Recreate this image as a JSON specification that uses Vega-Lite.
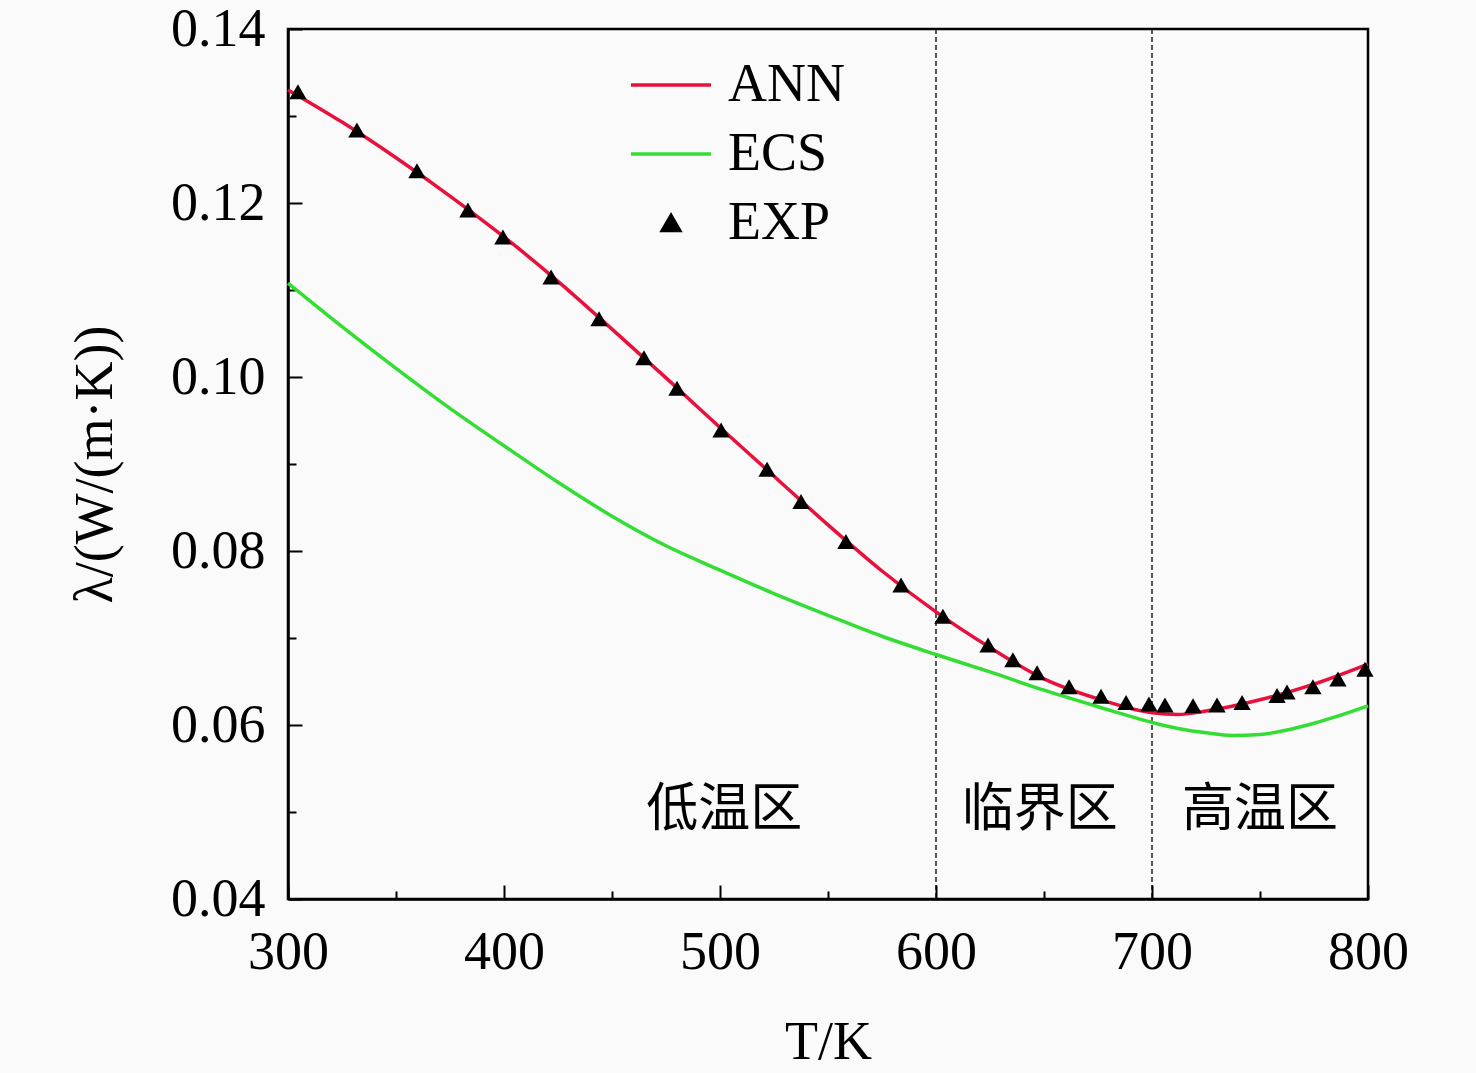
{
  "$schema": "https://vega.github.io/schema/vega-lite/v6.json",
  "width": 1080,
  "height": 870,
  "autosize": {"type": "none"},
  "padding": {"left": 288, "top": 29, "right": 108, "bottom": 174},
  "background": "#FAFAFA",
  "config": {
    "view": {"stroke": "black", "strokeWidth": 2.5},
    "font": "Liberation Serif",
    "axis": {
      "domainColor": "black",
      "domainWidth": 2.5,
      "tickColor": "black",
      "tickWidth": 2,
      "labelColor": "black",
      "labelFont": "Liberation Serif",
      "labelFontSize": 54,
      "labelFlush": false,
      "labelOverlap": false,
      "labelBound": false,
      "titleFont": "Liberation Serif",
      "titleFontSize": 54,
      "titleFontWeight": "normal",
      "titleColor": "black",
      "grid": false
    }
  },
  "data": {
    "values": [
      {"series": "ANN", "T": 300, "lam": 0.1330},
      {"series": "ANN", "T": 325, "lam": 0.1293},
      {"series": "ANN", "T": 350, "lam": 0.1252},
      {"series": "ANN", "T": 375, "lam": 0.1208},
      {"series": "ANN", "T": 400, "lam": 0.1161},
      {"series": "ANN", "T": 425, "lam": 0.1110},
      {"series": "ANN", "T": 450, "lam": 0.1055},
      {"series": "ANN", "T": 475, "lam": 0.0999},
      {"series": "ANN", "T": 500, "lam": 0.0942},
      {"series": "ANN", "T": 525, "lam": 0.0886},
      {"series": "ANN", "T": 550, "lam": 0.0830},
      {"series": "ANN", "T": 575, "lam": 0.0777},
      {"series": "ANN", "T": 600, "lam": 0.0730},
      {"series": "ANN", "T": 625, "lam": 0.0689},
      {"series": "ANN", "T": 650, "lam": 0.0653},
      {"series": "ANN", "T": 675, "lam": 0.0630},
      {"series": "ANN", "T": 700, "lam": 0.0614},
      {"series": "ANN", "T": 712, "lam": 0.0612},
      {"series": "ANN", "T": 725, "lam": 0.0616},
      {"series": "ANN", "T": 750, "lam": 0.0629},
      {"series": "ANN", "T": 775, "lam": 0.0647},
      {"series": "ANN", "T": 800, "lam": 0.0670},
      {"series": "ECS", "T": 300, "lam": 0.1108},
      {"series": "ECS", "T": 325, "lam": 0.1058},
      {"series": "ECS", "T": 350, "lam": 0.1010},
      {"series": "ECS", "T": 375, "lam": 0.0964},
      {"series": "ECS", "T": 400, "lam": 0.0921},
      {"series": "ECS", "T": 425, "lam": 0.0879},
      {"series": "ECS", "T": 450, "lam": 0.0840},
      {"series": "ECS", "T": 475, "lam": 0.0806},
      {"series": "ECS", "T": 500, "lam": 0.0778},
      {"series": "ECS", "T": 525, "lam": 0.0751},
      {"series": "ECS", "T": 550, "lam": 0.0726},
      {"series": "ECS", "T": 575, "lam": 0.0702},
      {"series": "ECS", "T": 600, "lam": 0.0681},
      {"series": "ECS", "T": 625, "lam": 0.0661},
      {"series": "ECS", "T": 650, "lam": 0.0640},
      {"series": "ECS", "T": 675, "lam": 0.0621},
      {"series": "ECS", "T": 700, "lam": 0.0603},
      {"series": "ECS", "T": 712, "lam": 0.0596},
      {"series": "ECS", "T": 725, "lam": 0.0591},
      {"series": "ECS", "T": 737, "lam": 0.0588},
      {"series": "ECS", "T": 750, "lam": 0.0589},
      {"series": "ECS", "T": 762, "lam": 0.0594},
      {"series": "ECS", "T": 775, "lam": 0.0602},
      {"series": "ECS", "T": 787, "lam": 0.0611},
      {"series": "ECS", "T": 800, "lam": 0.0622},
      {"series": "EXP", "T": 304.6, "lam": 0.1328},
      {"series": "EXP", "T": 331.9, "lam": 0.1284},
      {"series": "EXP", "T": 359.7, "lam": 0.1237},
      {"series": "EXP", "T": 383.3, "lam": 0.1192},
      {"series": "EXP", "T": 399.5, "lam": 0.1161},
      {"series": "EXP", "T": 421.8, "lam": 0.1115},
      {"series": "EXP", "T": 444.0, "lam": 0.1067},
      {"series": "EXP", "T": 464.8, "lam": 0.1022},
      {"series": "EXP", "T": 480.1, "lam": 0.0987},
      {"series": "EXP", "T": 500.5, "lam": 0.0939},
      {"series": "EXP", "T": 521.8, "lam": 0.0894},
      {"series": "EXP", "T": 537.5, "lam": 0.0857},
      {"series": "EXP", "T": 558.3, "lam": 0.0811},
      {"series": "EXP", "T": 583.8, "lam": 0.0761},
      {"series": "EXP", "T": 603.2, "lam": 0.0725},
      {"series": "EXP", "T": 624.1, "lam": 0.0692},
      {"series": "EXP", "T": 635.6, "lam": 0.0675},
      {"series": "EXP", "T": 646.8, "lam": 0.0660},
      {"series": "EXP", "T": 661.6, "lam": 0.0644},
      {"series": "EXP", "T": 676.4, "lam": 0.0633},
      {"series": "EXP", "T": 688.0, "lam": 0.0626},
      {"series": "EXP", "T": 698.6, "lam": 0.0624},
      {"series": "EXP", "T": 706.0, "lam": 0.0623},
      {"series": "EXP", "T": 719.0, "lam": 0.0622},
      {"series": "EXP", "T": 730.1, "lam": 0.0623},
      {"series": "EXP", "T": 741.7, "lam": 0.0626},
      {"series": "EXP", "T": 757.9, "lam": 0.0634},
      {"series": "EXP", "T": 762.5, "lam": 0.0638},
      {"series": "EXP", "T": 774.5, "lam": 0.0644},
      {"series": "EXP", "T": 786.1, "lam": 0.0653},
      {"series": "EXP", "T": 798.6, "lam": 0.0664}
    ]
  },
  "encoding": {
    "x": {
      "field": "T",
      "type": "quantitative",
      "scale": {"domain": [300, 800], "nice": false, "zero": false},
      "axis": {
        "title": "T/K",
        "values": [300, 350, 400, 450, 500, 550, 600, 650, 700, 750, 800],
        "labelExpr": "datum.value % 100 === 0 ? datum.label : ''",
        "tickSize": {"condition": {"test": "datum.value % 100 === 0", "value": -14}, "value": -8},
        "labelPadding": 40,
        "titlePadding": 30
      }
    },
    "y": {
      "field": "lam",
      "type": "quantitative",
      "scale": {"domain": [0.04, 0.14], "nice": false, "zero": false},
      "axis": {
        "title": "λ/(W/(m·K))",
        "values": [0.04, 0.05, 0.06, 0.07, 0.08, 0.09, 0.1, 0.11, 0.12, 0.13, 0.14],
        "format": ".2f",
        "labelExpr": "round(datum.value * 100) % 2 === 0 ? datum.label : ''",
        "tickSize": {"condition": {"test": "round(datum.value * 100) % 2 === 0", "value": -14}, "value": -8},
        "labelPadding": 37,
        "titlePadding": 48
      }
    }
  },
  "layer": [
    {
      "data": {"values": [{"T": 600}, {"T": 700}]},
      "mark": {"type": "rule", "color": "black", "strokeWidth": 1.3, "strokeDash": [5, 3]},
      "encoding": {"x": {"field": "T", "type": "quantitative"}, "y": null}
    },
    {
      "transform": [{"filter": "datum.series !== 'EXP'"}],
      "mark": {"type": "line", "strokeWidth": 3.5, "interpolate": "monotone"},
      "encoding": {
        "color": {
          "field": "series",
          "type": "nominal",
          "scale": {"domain": ["ANN", "ECS", "EXP"], "range": ["#E8113D", "#33DD33", "black"]},
          "legend": {
            "orient": "none",
            "legendX": 341,
            "legendY": 14,
            "title": null,
            "symbolSize": 400,
            "labelFont": "Liberation Serif",
            "labelFontSize": 54,
            "labelColor": "black",
            "labelOffset": 15,
            "rowPadding": 0,
            "padding": 0,
            "encode": {
              "symbols": {
                "update": {
                  "shape": {"signal": "datum.value === 'EXP' ? 'triangle-up' : 'stroke'"},
                  "size": {"signal": "datum.value === 'EXP' ? 300 : 6400"},
                  "fill": {"signal": "datum.value === 'EXP' ? 'black' : 'transparent'"},
                  "stroke": {"signal": "datum.value === 'EXP' ? 'transparent' : (datum.value === 'ANN' ? '#E8113D' : '#33DD33')"},
                  "strokeWidth": {"value": 3.5},
                  "opacity": {"value": 1}
                }
              }
            }
          }
        }
      }
    },
    {
      "transform": [{"filter": "datum.series === 'EXP'"}],
      "mark": {"type": "point", "shape": "triangle-up", "filled": true, "size": 300, "opacity": 1},
      "encoding": {
        "color": {"field": "series", "type": "nominal"}
      }
    },
    {
      "data": {
        "values": [
          {"T": 502, "lam": 0.0502, "label": "低温区"},
          {"T": 648, "lam": 0.0502, "label": "临界区"},
          {"T": 750, "lam": 0.0502, "label": "高温区"}
        ]
      },
      "mark": {"type": "text", "font": "Noto Sans CJK SC", "fontSize": 52, "color": "black", "baseline": "middle", "align": "center"},
      "encoding": {"text": {"field": "label"}}
    }
  ]
}
